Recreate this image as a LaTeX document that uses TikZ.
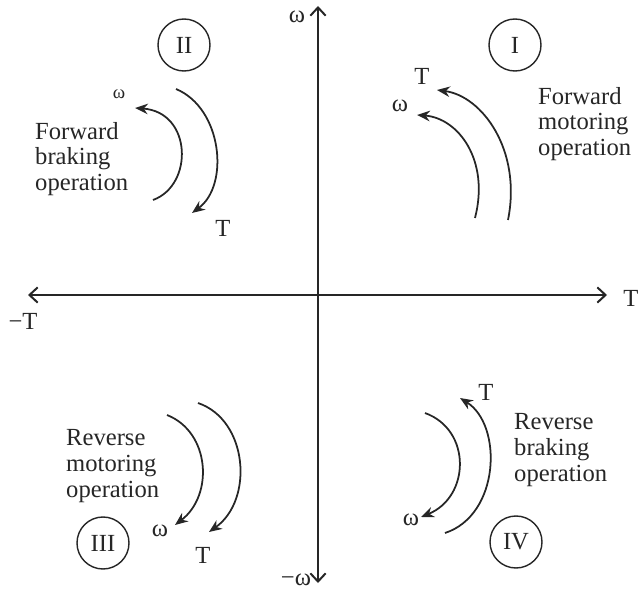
\documentclass[tikz,border=0pt]{standalone}
\usepackage{fontspec}
\setmainfont{Liberation Serif}
\usepackage{tikz}
\usetikzlibrary{arrows.meta, positioning}

\begin{document}
\begin{tikzpicture}[x=0.03cm, y=-0.03cm,
  every node/.style={font=\fontsize{21pt}{22pt}\selectfont, text=black!85},
  axis/.style={draw=black!85, line width=1.7pt, -{Straight Barb[length=7pt, width=13pt, line width=1.7pt]}},
  curve/.style={draw=black!85, line width=1.5pt, -{Stealth[length=11pt, width=9pt]}},
  quad/.style={circle, draw=black!85, line width=1.2pt, minimum size=1.56cm, inner sep=0pt},
  note/.style={align=left, anchor=west, inner sep=0pt}]
\useasboundingbox (0,0) rectangle (638,591);
% axes
\coordinate (o) at (318,295);
\coordinate (wpos) at (318,6);
\coordinate (wneg) at (318,583);
\coordinate (tpos) at (607,295);
\coordinate (tneg) at (28,295);
\draw[axis] (o) -- (wpos);
\draw[axis] (o) -- (wneg);
\draw[axis] (o) -- (tpos);
\draw[axis] (o) -- (tneg);
\node (lw) at (297,17) {ω};
\node (lmw) at (296,580) {−ω};
\node (lt) at (631,298) {T};
\node (lmt) at (23,321) {−T};
% quadrant I: forward motoring
\node[quad] (q1) at (515,45) {I};
\coordinate (t1a) at (508,220);
\coordinate (t1b) at (437,90);
\coordinate (w1a) at (475,218);
\coordinate (w1b) at (417,115);
\draw[curve] (t1a) .. controls (522,150) and (482,96) .. (t1b);
\draw[curve] (w1a) .. controls (490,160) and (458,118) .. (w1b);
\node (t1) at (422,76) {T};
\node (w1) at (400,106) {ω};
\node[note] (n1) at (538,124) {Forward\\motoring\\operation};
% quadrant II: forward braking
\node[quad] (q2) at (184,45) {II};
\coordinate (t2a) at (176,89);
\coordinate (t2b) at (192,213);
\coordinate (w2a) at (153,200);
\coordinate (w2b) at (135,108);
\draw[curve] (t2a) .. controls (222,108) and (230,185) .. (t2b);
\draw[curve] (w2a) .. controls (194,185) and (192,112) .. (w2b);
\node (t2) at (223,228) {T};
\node[font=\fontsize{16pt}{18pt}\selectfont] (w2) at (119,94) {ω};
\node[note] (n2) at (35,159) {Forward\\braking\\operation};
% quadrant III: reverse motoring
\node[quad] (q3) at (103,543) {III};
\coordinate (w3a) at (167,415);
\coordinate (w3b) at (175,525);
\coordinate (t3a) at (198,403);
\coordinate (t3b) at (209,532);
\draw[curve] (w3a) .. controls (210,432) and (214,495) .. (w3b);
\draw[curve] (t3a) .. controls (248,420) and (254,500) .. (t3b);
\node (w3) at (160,531) {ω};
\node (t3) at (203,555) {T};
\node[note] (n3) at (66,466) {Reverse\\motoring\\operation};
% quadrant IV: reverse braking
\node[quad] (q4) at (516,542) {IV};
\coordinate (w4a) at (425,413);
\coordinate (w4b) at (421,517);
\coordinate (t4a) at (445,533);
\coordinate (t4b) at (460,398);
\draw[curve] (w4a) .. controls (472,430) and (470,497) .. (w4b);
\draw[curve] (t4a) .. controls (500,515) and (503,425) .. (t4b);
\node (t4) at (486,392) {T};
\node (w4) at (411,520) {ω};
\node[note] (n4) at (514,450) {Reverse\\braking\\operation};
\end{tikzpicture}
\end{document}
